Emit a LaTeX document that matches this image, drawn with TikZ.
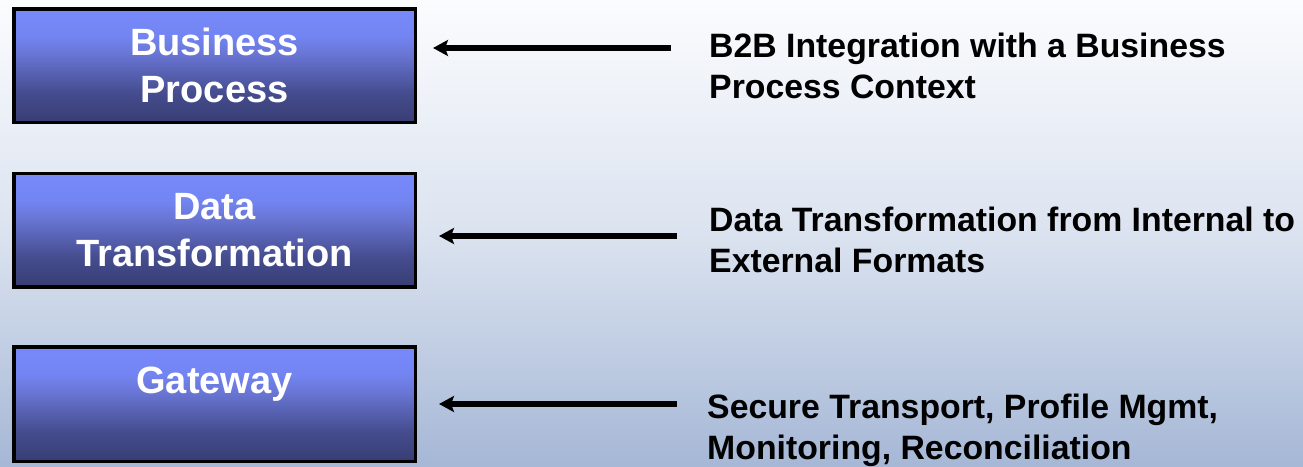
\documentclass[tikz,border=0pt]{standalone}
\usepackage{fontspec}
\setmainfont{Liberation Sans}
\usetikzlibrary{arrows.meta}

% vertical fills (stops between 25bp and 75bp map onto the filled path)
\pgfdeclareverticalshading{stagefill}{100bp}{%
  rgb(0bp)=(0.22,0.24,0.45);
  rgb(25bp)=(0.22,0.24,0.45);
  rgb(38bp)=(0.27,0.30,0.56);
  rgb(55bp)=(0.41,0.46,0.83);
  rgb(63bp)=(0.45,0.52,0.95);
  rgb(75bp)=(0.47,0.54,0.98);
  rgb(100bp)=(0.47,0.54,0.98)}
\pgfdeclareverticalshading{pagefill}{100bp}{%
  rgb(0bp)=(0.65,0.72,0.84);
  rgb(25bp)=(0.65,0.72,0.84);
  rgb(50bp)=(0.86,0.89,0.94);
  rgb(75bp)=(0.985,0.988,0.995);
  rgb(100bp)=(0.985,0.988,0.995)}

\tikzset{
  stage/.style={draw=black, line width=3.5pt, shade, shading=stagefill,
    minimum width=401.5pt, inner sep=0pt, text=white, align=center,
    font=\bfseries\fontsize{38}{47}\selectfont},
  note/.style={inner sep=0pt, align=left, anchor=base west,
    font=\bfseries\fontsize{33.8}{41}\selectfont},
  link/.style={line width=5.5pt, -{Stealth[length=15pt,width=16pt,inset=3pt]}}
}

\begin{document}
\begin{tikzpicture}[x=1pt, y=-1pt]
  % page background
  \path[shading=pagefill] (0,0) rectangle (1303,466);
  \useasboundingbox (0,0) rectangle (1303,466);

  % the three layers
  \node[stage, minimum height=113.5pt] (bp) at (214.5,65.5) {Business\\Process};
  \node[stage, minimum height=113.5pt] (dt) at (214.5,230) {Data\\Transformation};
  \node[stage, minimum height=114.5pt] (gw) at (214.5,404) {Gateway\\\mbox{}};

  % descriptions (anchored on the baseline of their last line)
  \node[note] (nbp) at (709,98) {B2B Integration with a Business\\Process Context};
  \node[note] (ndt) at (709,272) {Data Transformation from Internal to\\External Formats};
  \node[note] (ngw) at (707,459) {Secure Transport, Profile Mgmt,\\Monitoring, Reconciliation};

  % arrows pointing back to each layer
  \coordinate (bpt) at (671,48);  \coordinate (bph) at (433,48);
  \coordinate (dtt) at (677,236); \coordinate (dth) at (439,236);
  \coordinate (gwt) at (677,404); \coordinate (gwh) at (439,404);
  \draw[link] (bpt) -- (bph);
  \draw[link] (dtt) -- (dth);
  \draw[link] (gwt) -- (gwh);
\end{tikzpicture}
\end{document}
